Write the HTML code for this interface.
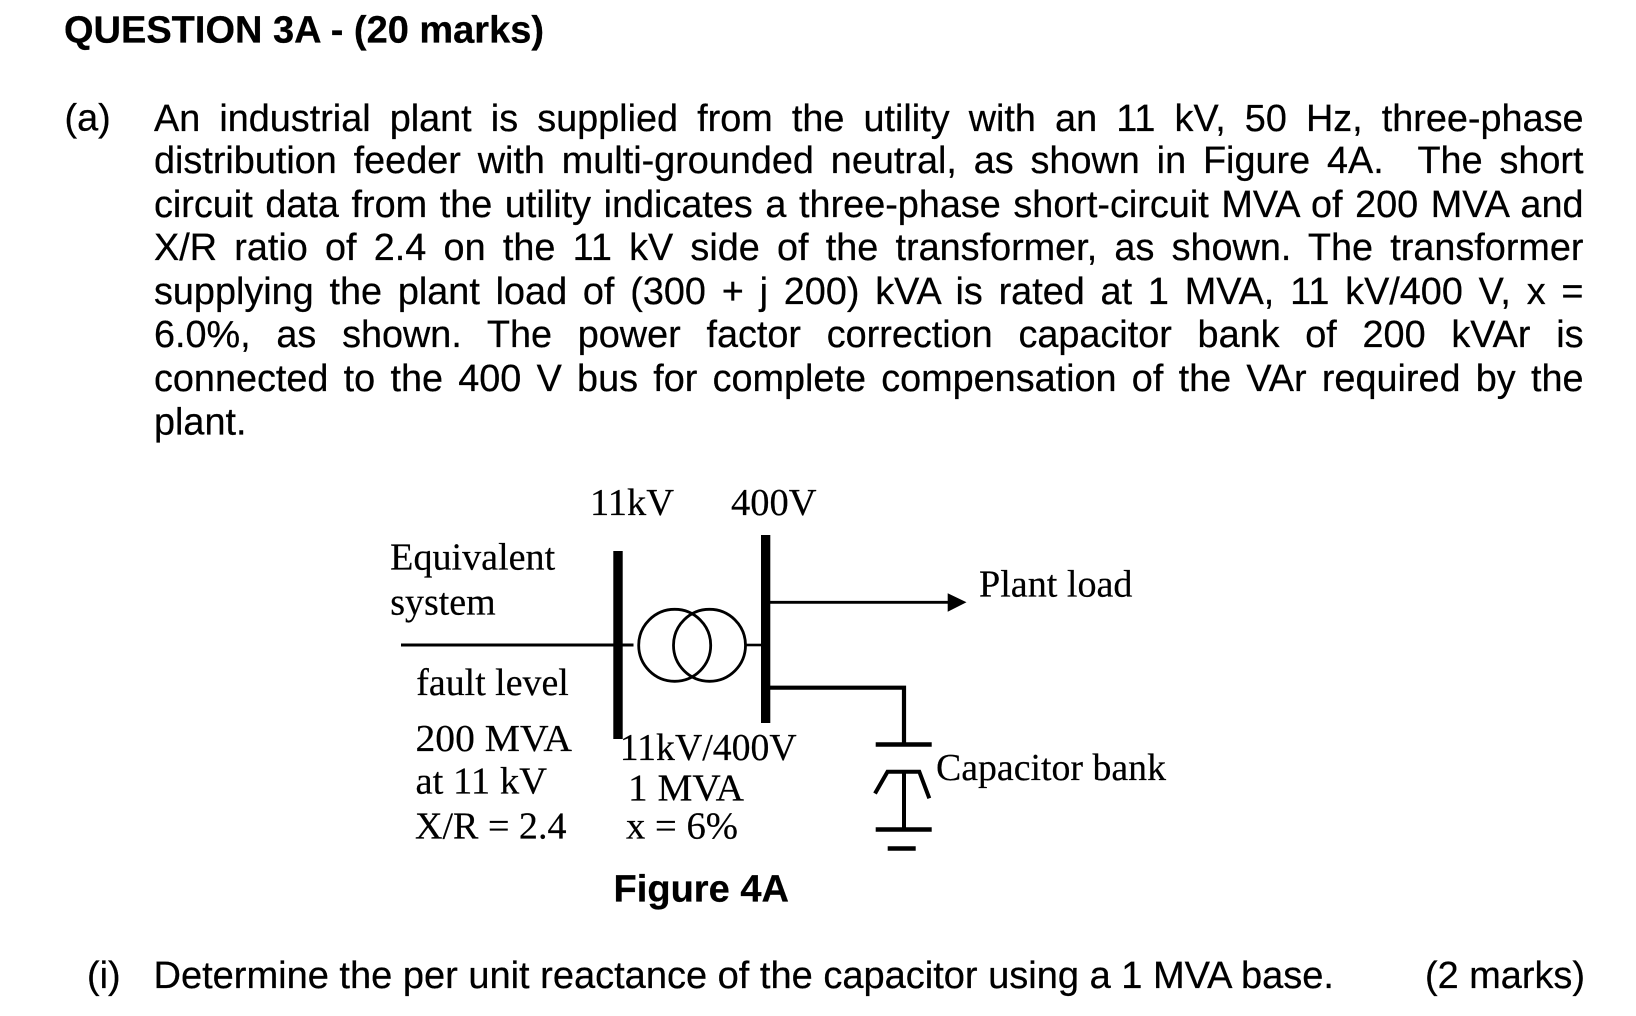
<!DOCTYPE html>
<html><head><meta charset="utf-8"><style>
html,body{margin:0;padding:0;background:#fff;width:1636px;height:1016px;overflow:hidden}
#p{position:relative;width:1636px;height:1016px}
.l{position:absolute;left:154px;width:1429.5px;height:44px;font:37.8px/44px "Liberation Sans",Arial,sans-serif;color:#000;text-align:justify;text-align-last:justify;-webkit-text-stroke:0.25px #000}
svg{position:absolute;left:0;top:0}
.s{font-family:"Liberation Sans",Arial,sans-serif;font-size:37.8px;fill:#000;stroke:#000;stroke-width:0.25px}
.b{font-weight:bold}
.t{font-family:"Liberation Serif","Times New Roman",serif;font-size:38px;fill:#000;stroke:#000;stroke-width:0.2px}
</style></head><body><div id="p">
<div class="l" style="top:97px">An industrial plant is supplied from the utility with an 11 kV, 50 Hz, three-phase</div>
<div class="l" style="top:139px">distribution feeder with multi-grounded neutral, as shown in Figure 4A. &nbsp;The short</div>
<div class="l" style="top:183px">circuit data from the utility indicates a three-phase short-circuit MVA of 200 MVA and</div>
<div class="l" style="top:226px">X/R ratio of 2.4 on the 11 kV side of the transformer, as shown. The transformer</div>
<div class="l" style="top:270px">supplying the plant load of (300 + j 200) kVA is rated at 1 MVA, 11 kV/400 V, x =</div>
<div class="l" style="top:313px">6.0%, as shown. The power factor correction capacitor bank of 200 kVAr is</div>
<div class="l" style="top:357px">connected to the 400 V bus for complete compensation of the VAr required by the</div>
<svg width="1636" height="1016" viewBox="0 0 1636 1016">
<text class="s b" x="64" y="42.7" textLength="480" lengthAdjust="spacingAndGlyphs">QUESTION 3A - (20 marks)</text>
<text class="s" x="64.5" y="130.7">(a)</text>
<text class="s" x="154" y="434.3">plant.</text>
<text class="s b" x="613.5" y="901.7" textLength="175.5" lengthAdjust="spacingAndGlyphs">Figure 4A</text>
<text class="s" x="87" y="988">(i)</text>
<text class="s" x="153.5" y="988" textLength="1180.5" lengthAdjust="spacingAndGlyphs">Determine the per unit reactance of the capacitor using a 1 MVA base.</text>
<text class="s" x="1425" y="988" textLength="160" lengthAdjust="spacingAndGlyphs">(2 marks)</text>

<g fill="none" stroke="#000">
<rect x="613.3" y="551" width="9.4" height="188" fill="#000" stroke="none"/>
<rect x="761" y="535" width="9.3" height="188" fill="#000" stroke="none"/>
<line x1="401" y1="645" x2="633.5" y2="645" stroke-width="3"/>
<circle cx="674.7" cy="645.3" r="36" stroke-width="2.8"/>
<circle cx="709.5" cy="645.3" r="36" stroke-width="2.8"/>
<line x1="746" y1="645" x2="762" y2="645" stroke-width="2.6"/>
<line x1="770" y1="602.3" x2="950" y2="602.3" stroke-width="2.8"/>
<polyline points="770,687.7 904,687.7 904,744" stroke-width="4.2"/>
<line x1="875.7" y1="744.5" x2="931.7" y2="744.5" stroke-width="4.5"/>
<polyline points="875,793.5 887.5,771.7 919.3,771.7 929.3,798.3" stroke-width="4"/>
<line x1="904" y1="771.7" x2="904" y2="829.3" stroke-width="4"/>
<line x1="875.7" y1="829.5" x2="931.7" y2="829.5" stroke-width="4.5"/>
<line x1="887.7" y1="848.5" x2="915.7" y2="848.5" stroke-width="4.5"/>
</g>
<polygon points="947.7,593.3 966.5,602.3 947.7,611.7" fill="#000"/>

<text class="t" x="590" y="515" textLength="84" lengthAdjust="spacingAndGlyphs">11kV</text>
<text class="t" x="731" y="515" textLength="85.5" lengthAdjust="spacingAndGlyphs">400V</text>
<text class="t" x="390.2" y="569.3" textLength="165" lengthAdjust="spacingAndGlyphs">Equivalent</text>
<text class="t" x="390.2" y="614.5" textLength="105.5" lengthAdjust="spacingAndGlyphs">system</text>
<text class="t" x="416.3" y="695" textLength="152.5" lengthAdjust="spacingAndGlyphs">fault level</text>
<text class="t" x="415.5" y="751" textLength="156.5" lengthAdjust="spacingAndGlyphs">200 MVA</text>
<text class="t" x="415.5" y="793.3" textLength="131.5" lengthAdjust="spacingAndGlyphs">at 11 kV</text>
<text class="t" x="415" y="838.3" textLength="151.5" lengthAdjust="spacingAndGlyphs">X/R = 2.4</text>
<text class="t" x="619.7" y="760" textLength="177" lengthAdjust="spacingAndGlyphs">11kV/400V</text>
<text class="t" x="628" y="800.7" textLength="116" lengthAdjust="spacingAndGlyphs">1 MVA</text>
<text class="t" x="626" y="838.3" textLength="112" lengthAdjust="spacingAndGlyphs">x = 6%</text>
<text class="t" x="979" y="596.7" textLength="153.5" lengthAdjust="spacingAndGlyphs">Plant load</text>
<text class="t" x="936" y="780" textLength="230" lengthAdjust="spacingAndGlyphs">Capacitor bank</text>
</svg>
</div></body></html>
